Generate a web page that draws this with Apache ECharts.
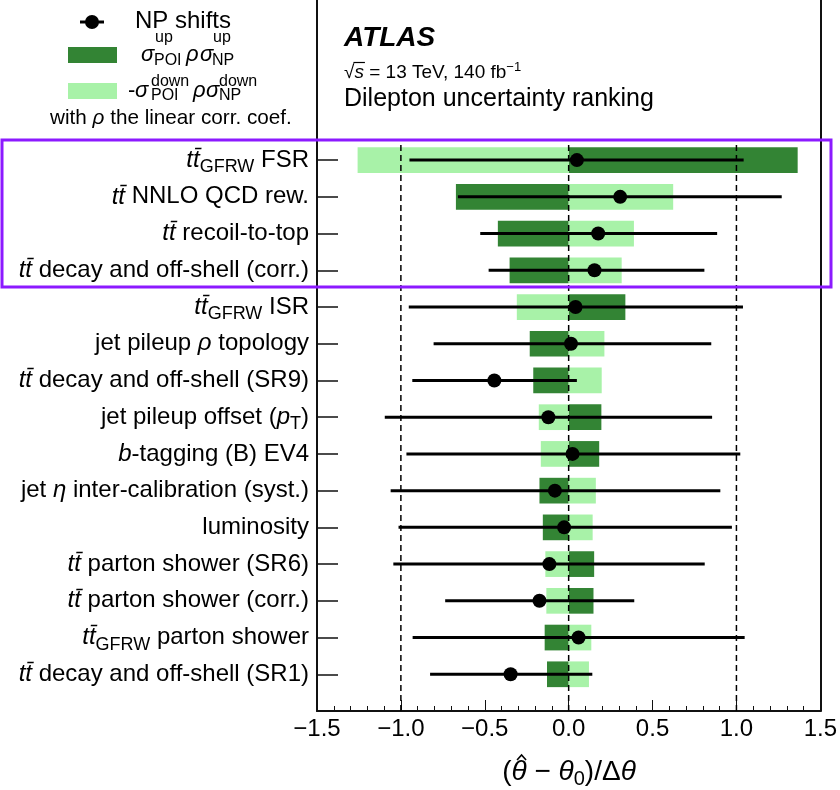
<!DOCTYPE html>
<html><head><meta charset="utf-8">
<script src="https://cdn.jsdelivr.net/npm/echarts@6/dist/echarts.min.js"></script>
<style>html,body{margin:0;padding:0;background:#fff}#c{width:840px;height:790px}</style>
</head><body><div id="c"></div>
<script>
// Rows, top to bottom
const labels = [
  '{i|tt\u0304}{s|GFRW} FSR',
  '{i|tt\u0304} NNLO QCD rew.',
  '{i|tt\u0304} recoil-to-top',
  '{i|tt\u0304} decay and off-shell (corr.)',
  '{i|tt\u0304}{s|GFRW} ISR',
  'jet pileup {i|ρ} topology',
  '{i|tt\u0304} decay and off-shell (SR9)',
  'jet pileup offset ({i|p}{s|T})',
  '{i|b}-tagging (B) EV4',
  'jet {i|η} inter-calibration (syst.)',
  'luminosity',
  '{i|tt\u0304} parton shower (SR6)',
  '{i|tt\u0304} parton shower (corr.)',
  '{i|tt\u0304}{s|GFRW} parton shower',
  '{i|tt\u0304} decay and off-shell (SR1)'
];
// sigma_POI^up * rho * sigma_NP^up  (dark green)
const impactUp = [1.365, -0.672, -0.422, -0.352, 0.338, -0.232, -0.211, 0.195, 0.182, -0.174, -0.154, 0.152, 0.148, -0.143, -0.129];
// -sigma_POI^down * rho * sigma_NP^down (light green)
const impactDown = [-1.258, 0.623, 0.389, 0.316, -0.309, 0.213, 0.197, -0.178, -0.166, 0.162, 0.143, -0.139, -0.133, 0.135, 0.121];
// NP shifts
const pulls = [0.049, 0.307, 0.176, 0.154, 0.041, 0.014, -0.443, -0.121, 0.023, -0.082, -0.027, -0.115, -0.174, 0.059, -0.346];
const errLow = [-0.949, -0.660, -0.527, -0.477, -0.953, -0.805, -0.932, -1.096, -0.967, -1.061, -1.014, -1.045, -0.736, -0.930, -0.826];
const errHigh = [1.043, 1.270, 0.885, 0.809, 1.039, 0.850, 0.049, 0.855, 1.023, 0.904, 0.973, 0.811, 0.391, 1.049, 0.141];
const xTicks = [-1.5, -1.0, -0.5, 0.0, 0.5, 1.0, 1.5];
const refLines = [-1, 0, 1];

const N = labels.length;
const rowVals = labels.map((_, i) => N - i);
const FONT = '"Liberation Sans", Arial, Helvetica, sans-serif';
const DARK = '#338434';
const LIGHT = '#a8f2a8';

const mc = document.createElement('canvas').getContext('2d');
function tw(t, f) { mc.font = f; return mc.measureText(t).width; }

const chart = echarts.init(document.getElementById('c'), null, {renderer: 'canvas'});

function barSeries(values, color) {
  return {
    type: 'custom', z: 1, silent: true,
    data: values.map((v, i) => [v, N - i]),
    encode: {x: 0, y: 1},
    renderItem: (params, api) => {
      const v = api.value(0), y = api.value(1);
      const p0 = api.coord([0, y]), p1 = api.coord([v, y]);
      const h = api.size([0, 0.7])[1];
      return {type: 'rect',
        shape: {x: Math.min(p0[0], p1[0]), y: p0[1] - h / 2, width: Math.abs(p1[0] - p0[0]), height: h},
        style: {fill: color}};
    }
  };
}

const dashSeries = refLines.map(x => ({
  type: 'line', z: 3, silent: true, symbol: 'none',
  data: [[x, 0], [x, 15.5]],
  lineStyle: {color: '#000', width: 1.5, type: [6, 4]}
}));

const fmtX = v => (v < 0 ? '\u2212' : '') + Math.abs(v).toFixed(1);

// axis title layout (measured)
const TF = 28, TS = 20;
const fR = TF + 'px ' + FONT, fI = 'italic ' + TF + 'px ' + FONT, fS = TS + 'px ' + FONT;
const titleW = tw('(', fR) + tw('θ', fI) + tw(' \u2212 ', fR) + tw('θ', fI) + tw('0', fS) + tw(')/Δ', fR) + tw('θ', fI);
const tx0 = 569 - titleW / 2;
const hatX = tx0 + tw('(', fR) + tw('θ', fI) / 2 + 2.5;
const TY = 772;

// sqrt overbar layout
const sqrtX0 = 344 + tw('√', '19px ' + FONT);
const sqrtX1 = sqrtX0 + tw('s', 'italic 19px ' + FONT) + 1;

function txt(x, y, t, font) {
  return {type: 'text', x: x, y: y, style: {text: t, font: font, fill: '#000', verticalAlign: 'middle'}};
}
const sig = 'italic 22px ' + FONT, scr = '16px ' + FONT;

const option = {
  animation: false,
  backgroundColor: '#fff',
  grid: {left: 317, right: 19, top: 0, bottom: 79},
  xAxis: {
    type: 'value', min: xTicks[0], max: xTicks[xTicks.length - 1], interval: 0.5,
    axisLine: {show: true, lineStyle: {color: '#111', width: 2}},
    axisTick: {show: true, inside: true, length: 11, lineStyle: {color: '#111', width: 1}},
    minorTick: {show: true, splitNumber: 5, length: 5, lineStyle: {color: '#111', width: 1}},
    splitLine: {show: false},
    axisLabel: {fontSize: 24, color: '#000', fontFamily: FONT, margin: 6, formatter: fmtX}
  },
  yAxis: [{
    type: 'value', min: 0, max: 19.36,
    axisLine: {show: true, onZero: false, lineStyle: {color: '#111', width: 2}},
    axisTick: {show: true, inside: true, length: 21, customValues: rowVals, lineStyle: {color: '#111', width: 1.5}},
    splitLine: {show: false},
    axisLabel: {
      customValues: rowVals, fontSize: 24, color: '#000', fontFamily: FONT, margin: 8,
      formatter: v => labels[N - v] || '',
      rich: {
        i: {fontStyle: 'italic', fontSize: 24, fontFamily: FONT, color: '#000'},
        s: {fontSize: 18, fontFamily: FONT, color: '#000', padding: [14, 0, 0, 0]}
      }
    }
  }, {
    type: 'value', min: 0, max: 19.36, position: 'right',
    axisLine: {show: true, onZero: false, lineStyle: {color: '#111', width: 2}},
    axisTick: {show: false}, axisLabel: {show: false}, splitLine: {show: false}
  }],
  series: [
    barSeries(impactUp, DARK),
    barSeries(impactDown, LIGHT),
    ...dashSeries,
    {
      type: 'custom', z: 5, silent: true,
      data: errLow.map((lo, i) => [lo, errHigh[i], N - i]),
      encode: {x: [0, 1], y: 2},
      renderItem: (params, api) => {
        const y = api.value(2);
        const a = api.coord([api.value(0), y]), b = api.coord([api.value(1), y]);
        return {type: 'line', shape: {x1: a[0], y1: a[1], x2: b[0], y2: b[1]},
          style: {stroke: '#000', lineWidth: 3}};
      }
    },
    {
      type: 'scatter', z: 6, silent: true, symbol: 'circle', symbolSize: 14,
      itemStyle: {color: '#000', opacity: 1},
      data: pulls.map((v, i) => [v, N - i])
    }
  ],
  graphic: [
    // legend
    {type: 'line', shape: {x1: 80, y1: 22, x2: 104, y2: 22}, style: {stroke: '#000', lineWidth: 3}},
    {type: 'circle', shape: {cx: 92, cy: 22, r: 7}, style: {fill: '#000'}},
    txt(135, 21, 'NP shifts', '24px ' + FONT),
    {type: 'rect', shape: {x: 68, y: 47, width: 49, height: 16}, style: {fill: DARK}},
    {type: 'rect', shape: {x: 68, y: 83, width: 49, height: 16}, style: {fill: LIGHT}},
    txt(141, 55, 'σ', sig),
    txt(155, 38, 'up', scr),
    txt(154, 61, 'POI', scr),
    txt(186, 55, 'ρ', sig),
    txt(200, 55, 'σ', sig),
    txt(213, 38, 'up', scr),
    txt(212, 61, 'NP', scr),
    txt(128, 91, '-', '22px ' + FONT),
    txt(135, 91, 'σ', sig),
    txt(151, 82, 'down', scr),
    txt(151, 96, 'POI', scr),
    txt(193, 91, 'ρ', sig),
    txt(206, 91, 'σ', sig),
    txt(219, 82, 'down', scr),
    txt(219, 96, 'NP', scr),
    {type: 'text', x: 50, y: 118, style: {
      text: 'with {i|ρ} the linear corr. coef.', font: '20.7px ' + FONT, fill: '#000', verticalAlign: 'middle',
      rich: {i: {fontStyle: 'italic', fontSize: 20.7, fontFamily: FONT}}}},
    // ATLAS label
    txt(344, 38, 'ATLAS', 'italic bold 28px ' + FONT),
    {type: 'text', x: 344, y: 73, style: {
      text: '√{it|s} = 13 TeV, 140 fb{sup|\u22121}', font: '19px ' + FONT, fill: '#000', verticalAlign: 'middle',
      rich: {it: {fontStyle: 'italic', fontSize: 19, fontFamily: FONT},
             sup: {fontSize: 13, fontFamily: FONT, padding: [0, 0, 12, 0]}}}},
    {type: 'line', shape: {x1: sqrtX0 - 1, y1: 62.5, x2: sqrtX1, y2: 62.5}, style: {stroke: '#000', lineWidth: 1.2}},
    txt(344, 99, 'Dilepton uncertainty ranking', '25px ' + FONT),
    // x-axis title
    {type: 'text', x: tx0, y: TY, style: {
      text: '({it|θ} \u2212 {it|θ}{sub|0})/Δ{it|θ}', font: fR, fill: '#000',
      verticalAlign: 'middle',
      rich: {it: {fontStyle: 'italic', fontSize: TF, fontFamily: FONT},
             sub: {fontSize: TS, fontFamily: FONT, padding: [14, 0, 0, 0]}}}},
    {type: 'polyline', shape: {points: [[hatX - 4.5, TY - 12], [hatX, TY - 17], [hatX + 4.5, TY - 12]]},
      style: {stroke: '#000', lineWidth: 1.6, fill: 'none'}},
    // highlight box
    {type: 'rect', z: 100, shape: {x: 2, y: 140, width: 829, height: 147},
      style: {fill: 'none', stroke: '#8c1aff', lineWidth: 3}}
  ]
};
chart.setOption(option);
</script>
</body></html>
